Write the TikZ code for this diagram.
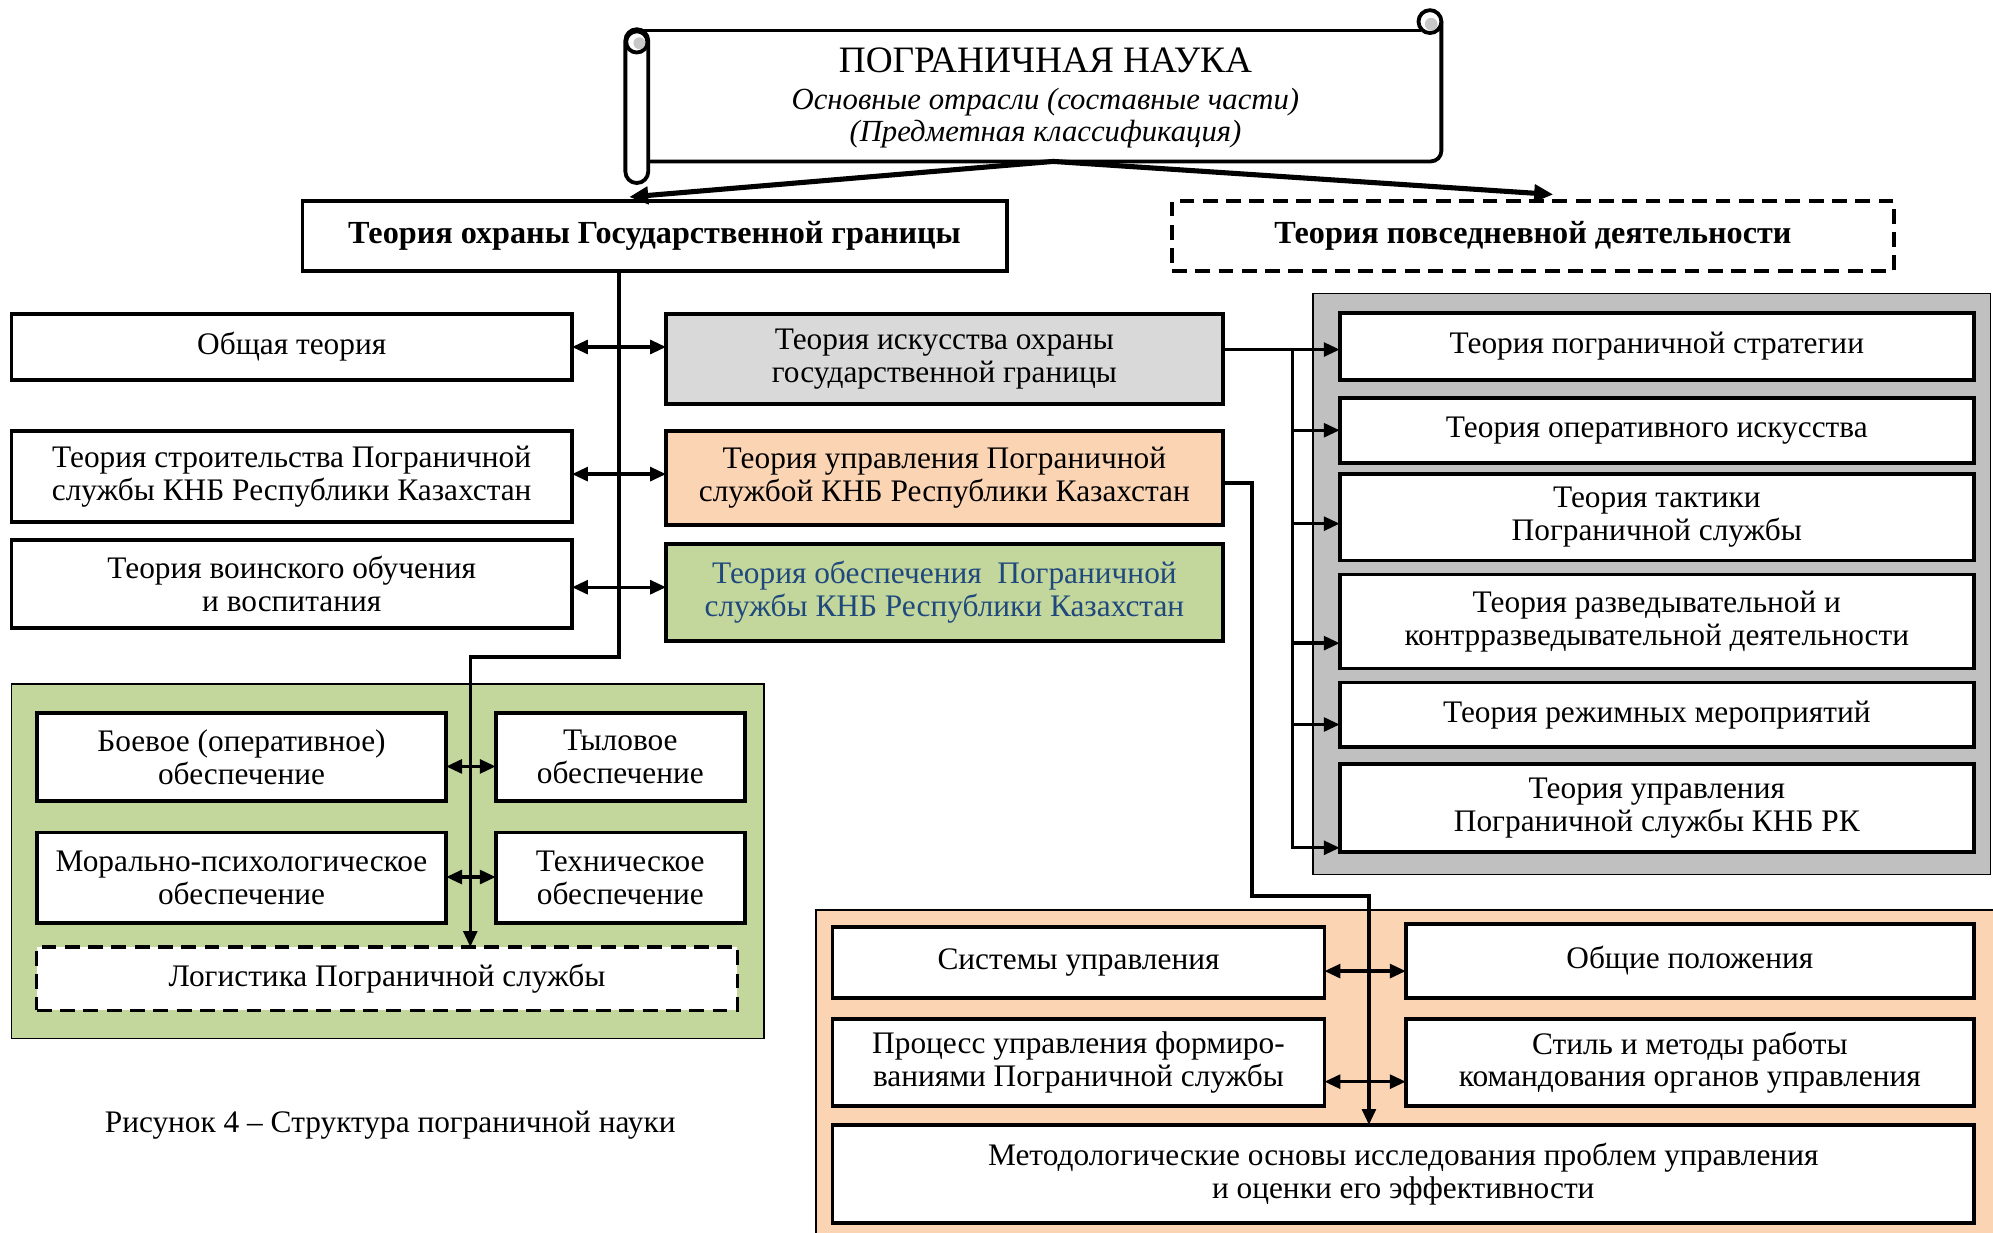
\documentclass[tikz,border=0pt]{standalone}
\usepackage{fontspec}
\setmainfont{Liberation Serif}
\usetikzlibrary{arrows.meta,calc}
\definecolor{grayA}{HTML}{D9D9D9}
\definecolor{grayB}{HTML}{C0C0C0}
\definecolor{peach}{HTML}{FBD4B4}
\definecolor{olive}{HTML}{C3D69B}
\definecolor{navy}{HTML}{1F497D}
\definecolor{curl}{HTML}{C8C8C8}
% \mybox{style}{name}{x1}{y1}{x2}{y2}{text}
\newcommand\mybox[7]{\node[#1, minimum width={(#5-#3)*0.6pt}, minimum height={(#6-#4)*0.6pt}] (#2) at ({(#3+#5)/2},{(#4+#6)/2}) {#7};}
\begin{document}
\begin{tikzpicture}[x=0.6pt,y=-0.6pt,
  txt/.style={font=\fontsize{14.8}{15.5}\selectfont},
  box/.style={draw, line width=1.8pt, fill=white, inner sep=0pt, outer sep=0pt, align=center, txt},
  bbox/.style={box, font=\fontsize{15.2}{15.5}\selectfont\bfseries},
  dbox/.style={dash pattern=on 7pt off 4pt},
  panel/.style={draw, line width=0.7pt, inner sep=0pt, outer sep=0pt},
  conn/.style={line width=1.6pt},
  tip/.tip={Triangle[length=7.5pt,width=6.5pt]},
  arr/.style={conn, -tip},
  darr/.style={conn, tip-tip},
  big/.style={line width=2.4pt, -{Triangle[length=9pt,width=8pt]}},
  scr/.style={line width=1.8pt}
]
\useasboundingbox (0,0) rectangle (1568,970);

% ---------- scroll title ----------
\fill[white] (505,24) rectangle (1134,127);
\draw[scr] (501,24) -- (1118,24);
\draw[scr, rounded corners=5pt] (1134,17) -- (1134,127) -- (505,127);
\draw[scr, fill=white] (1125,17) circle (5.4pt);
\fill[curl] (1126,19) circle (3pt);
\draw[scr, fill=white, rounded corners=5.4pt] (492,23) rectangle (510,144);
\draw[scr, fill=white] (501,33) circle (5pt);
\fill[curl] (503,34) circle (2.8pt);
\mybox{inner sep=0pt, outer sep=0pt, align=center, font=\fontsize{14.5}{15}\selectfont}{title}{511}{27}{1134}{127}
  {{\fontsize{17.6}{18}\selectfont ПОГРАНИЧНАЯ НАУКА}\\[2.5pt]
   {\itshape Основные отрасли (составные части)}\\
   {\itshape (Предметная классификация)}}

% ---------- second level ----------
\mybox{bbox}{ohr}{238}{158}{792}{213}{Теория охраны Государственной границы}
\mybox{bbox, dbox}{pov}{922}{158}{1490}{213}{Теория повседневной деятельности}

% ---------- panels ----------
\mybox{panel, fill=grayB}{gpanel}{1033}{231}{1566}{688}{}
\mybox{panel, fill=olive}{opanel}{9}{538}{601}{817}{}
\mybox{panel, fill=peach}{ppanel}{642}{716}{1570}{990}{}

% ---------- left column ----------
\mybox{box}{ot}{9}{247}{450}{299}{Общая теория}
\mybox{box}{str}{9}{339}{450}{411}{Теория строительства Пограничной\\службы КНБ Республики Казахстан}
\mybox{box}{voin}{9}{425}{450}{494}{Теория воинского обучения\\и воспитания}

% ---------- centre column ----------
\mybox{box, fill=grayA}{isk}{524}{247}{962}{318}{Теория искусства охраны\\государственной границы}
\mybox{box, fill=peach}{upr}{524}{339}{962}{413}{Теория управления Пограничной\\службой КНБ Республики Казахстан}
\mybox{box, fill=olive, text=navy}{obs}{524}{428}{962}{504}{Теория обеспечения~ Пограничной\\службы КНБ Республики Казахстан}

% ---------- right panel ----------
\mybox{box}{tr1}{1054}{246}{1553}{299}{Теория пограничной стратегии}
\mybox{box}{tr2}{1054}{313}{1553}{364}{Теория оперативного искусства}
\mybox{box}{tr3}{1054}{373}{1553}{441}{Теория тактики\\Пограничной службы}
\mybox{box}{tr4}{1054}{452}{1553}{526}{Теория разведывательной и\\контрразведывательной деятельности}
\mybox{box}{tr5}{1054}{537}{1553}{588}{Теория режимных мероприятий}
\mybox{box}{tr6}{1054}{601}{1553}{670}{Теория управления\\Пограничной службы КНБ РК}

% ---------- green panel ----------
\mybox{box}{boe}{29}{561}{351}{630}{Боевое (оперативное)\\обеспечение}
\mybox{box}{tyl}{390}{561}{586}{630}{Тыловое\\обеспечение}
\mybox{box}{mor}{29}{655}{351}{726}{Морально-психологическое\\обеспечение}
\mybox{box}{teh}{390}{655}{586}{726}{Техническое\\обеспечение}
\mybox{box, dbox, line width=1.5pt}{log}{29}{745}{580}{795}{Логистика Пограничной службы}

% ---------- peach panel ----------
\mybox{box}{sys}{655}{729}{1042}{785}{Системы управления}
\mybox{box}{obp}{1106}{727}{1553}{785}{Общие положения}
\mybox{box}{proc}{655}{802}{1042}{870}{Процесс управления формиро-\\ваниями Пограничной службы}
\mybox{box}{stil}{1106}{802}{1553}{870}{Стиль и методы работы\\командования органов управления}
\mybox{box}{met}{655}{885}{1553}{962}{Методологические основы исследования проблем управления\\и оценки его эффективности}

% ---------- caption ----------
\node[txt] (cap) at (307,885) {Рисунок 4 – Структура пограничной науки};

% ---------- connectors ----------
\draw[big] ($(title.south)+(6,0)$) -- ($(ohr.north west)+(257,-3)$);
\draw[big] ($(title.south)+(6,0)$) -- ($(pov.north west)+(300,-5)$);

\coordinate (j1) at (487,517);
\coordinate (j2) at (370,517);
\draw[arr] (ohr.south -| j1) -- (j1) -- (j2) -- (j2 |- log.north);

\draw[darr] (ot.east) -- (ot.east -| isk.west);
\draw[darr] (str.east |- 0,373) -- (upr.west |- 0,373);
\draw[darr] (voin.east |- 0,462) -- (obs.west |- 0,462);

\draw[darr] (boe.east |- 0,603) -- (tyl.west |- 0,603);
\draw[darr] (mor.east |- 0,690) -- (teh.west |- 0,690);

\coordinate (bx) at (1017,0);
\draw[arr] (isk.east |- 0,275) -- (tr1.west |- 0,275);
\draw[arr] (bx |- 0,275) -- (bx |- 0,667) -- (tr6.west |- 0,667);
\draw[arr] (bx |- tr2.west) -- (tr2.west);
\draw[arr] (bx |- 0,412) -- (tr3.west |- 0,412);
\draw[arr] (bx |- 0,506) -- (tr4.west |- 0,506);
\draw[arr] (bx |- 0,570) -- (tr5.west |- 0,570);

\coordinate (j3) at (985,380);
\coordinate (j4) at (985,705);
\coordinate (j5) at (1077,705);
\draw[arr] (upr.east |- j3) -- (j3) -- (j4) -- (j5) -- (j5 |- met.north);

\draw[darr] (sys.east |- 0,764) -- (obp.west |- 0,764);
\draw[darr] (proc.east |- 0,851) -- (stil.west |- 0,851);
\end{tikzpicture}
\end{document}
